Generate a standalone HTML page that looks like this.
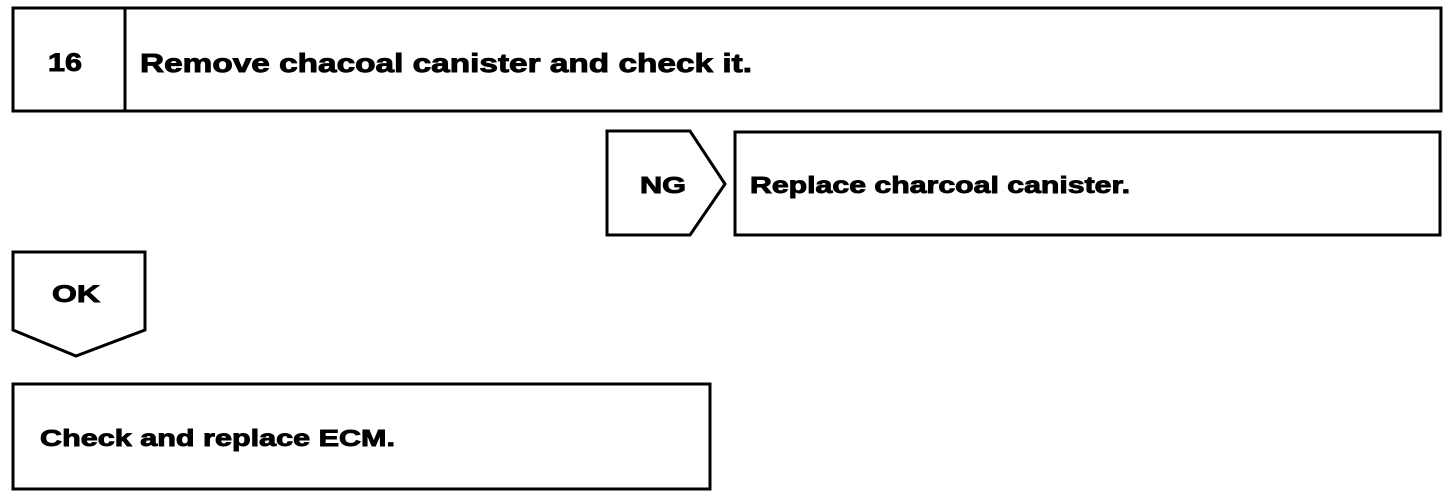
<!DOCTYPE html>
<html><head><style>
body{margin:0;background:#fff;width:1456px;height:498px;overflow:hidden}
svg text{font-family:"Liberation Sans",Arial,sans-serif;font-weight:bold;fill:#000;stroke:#000;stroke-width:0.9}
</style></head><body>
<svg width="1456" height="498" viewBox="0 0 1456 498" xmlns="http://www.w3.org/2000/svg">
<g fill="none" stroke="#000" stroke-width="3">
<rect x="13" y="8" width="1428" height="103"/>
<line x1="125" y1="8" x2="125" y2="111"/>
<polygon points="607,131 690,131 725,184 690,235 607,235"/>
<rect x="735" y="132" width="705" height="103"/>
<polygon points="13,252 145,252 145,330 76,356 13,330"/>
<rect x="13" y="384" width="697" height="105"/>
</g>
<text x="48" y="71" font-size="25" textLength="34" lengthAdjust="spacingAndGlyphs">16</text>
<text x="140" y="72" font-size="26" textLength="612" lengthAdjust="spacingAndGlyphs">Remove chacoal canister and check it.</text>
<text x="640" y="193" font-size="23" textLength="46" lengthAdjust="spacingAndGlyphs">NG</text>
<text x="750" y="193" font-size="23" textLength="380" lengthAdjust="spacingAndGlyphs">Replace charcoal canister.</text>
<text x="52" y="302" font-size="24" textLength="48" lengthAdjust="spacingAndGlyphs">OK</text>
<text x="40" y="446" font-size="23" textLength="355" lengthAdjust="spacingAndGlyphs">Check and replace ECM.</text>
</svg>
</body></html>
